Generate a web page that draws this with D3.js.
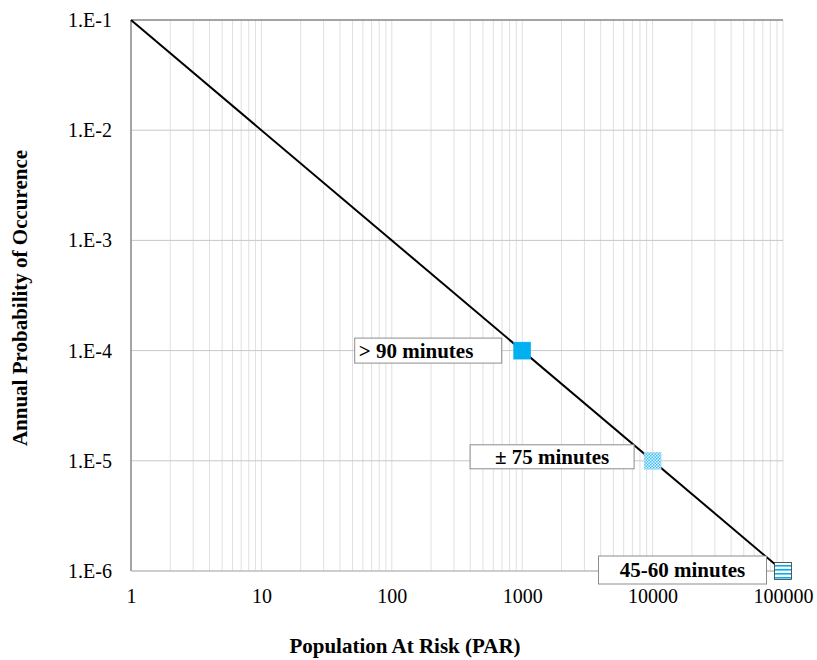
<!DOCTYPE html>
<html>
<head>
<meta charset="utf-8">
<script src="https://cdn.jsdelivr.net/npm/d3@7"></script>
<style>
  body { margin: 0; background: #fff; }
  text { font-family: "Liberation Serif", "Times New Roman", serif; }
</style>
</head>
<body>
<div id="graph"></div>
<script>
// data
const lineX = [1, 100000]
const lineY = [1e-1, 1e-6]
const pointX = [1000, 10000, 100000]
const pointY = [1e-4, 1e-5, 1e-6]
const pointLabels = ["> 90 minutes", "\u00B1 75 minutes", "45-60 minutes"]
const xTicks = [1, 10, 100, 1000, 10000, 100000]
const yTicks = [1e-1, 1e-2, 1e-3, 1e-4, 1e-5, 1e-6]
const yTickLabels = ["1.E-1", "1.E-2", "1.E-3", "1.E-4", "1.E-5", "1.E-6"]

const MARGIN = { LEFT: 131, RIGHT: 34, TOP: 20, BOTTOM: 89 }
const WIDTH = 817 - MARGIN.LEFT - MARGIN.RIGHT
const HEIGHT = 660 - MARGIN.TOP - MARGIN.BOTTOM

const svg = d3.select("#graph").append("svg")
    .attr("width", 817)
    .attr("height", 660)

const defs = svg.append("defs")
// dotted fill
const dots = defs.append("pattern")
    .attr("id", "dots")
    .attr("width", 3).attr("height", 3)
    .attr("patternUnits", "userSpaceOnUse")
dots.append("rect").attr("width", 3).attr("height", 3).attr("fill", "#e3f6fd")
dots.append("rect").attr("width", 1.5).attr("height", 1.5).attr("fill", "#3dbdf0")
dots.append("rect").attr("x", 1.5).attr("y", 1.5).attr("width", 1.5).attr("height", 1.5).attr("fill", "#3dbdf0")
// horizontal lines fill
const hlines = defs.append("pattern")
    .attr("id", "hlines")
    .attr("width", 4).attr("height", 4)
    .attr("patternUnits", "userSpaceOnUse")
hlines.append("rect").attr("width", 4).attr("height", 4).attr("fill", "#fff")
hlines.append("rect").attr("y", 1).attr("width", 4).attr("height", 1.6).attr("fill", "#00b0f0")

const g = svg.append("g")
    .attr("transform", `translate(${MARGIN.LEFT}, ${MARGIN.TOP})`)

const x = d3.scaleLog()
    .range([0, WIDTH])
    .domain([1, 100000])

const y = d3.scaleLog()
    .range([HEIGHT, 0])
    .domain([1e-6, 1e-1])

// grid
const minorX = x.ticks().filter(d => d > 1)
g.append("g").selectAll("line")
    .data(minorX)
    .enter().append("line")
    .attr("x1", d => x(d)).attr("x2", d => x(d))
    .attr("y1", 0).attr("y2", HEIGHT)
    .attr("stroke", "#e0e0e0")
    .attr("stroke-width", 1)

g.append("g").selectAll("line")
    .data(yTicks.slice(1, -1))
    .enter().append("line")
    .attr("x1", 0).attr("x2", WIDTH)
    .attr("y1", d => y(d)).attr("y2", d => y(d))
    .attr("stroke", "#c8c8c8")
    .attr("stroke-width", 1)

// frame
g.append("line").attr("x1", 0).attr("x2", WIDTH).attr("y1", 0).attr("y2", 0)
    .attr("stroke", "#868686").attr("stroke-width", 1.5)
g.append("line").attr("x1", 0).attr("x2", 0).attr("y1", 0).attr("y2", HEIGHT)
    .attr("stroke", "#868686").attr("stroke-width", 1.5)
g.append("line").attr("x1", 0).attr("x2", WIDTH).attr("y1", HEIGHT).attr("y2", HEIGHT)
    .attr("stroke", "#bcbcbc").attr("stroke-width", 1.5)

// axes
const xAxisCall = d3.axisBottom(x).tickValues(xTicks).tickFormat(d3.format("d")).tickSize(0).tickPadding(18)
const xAxis = g.append("g")
    .attr("class", "x axis")
    .attr("transform", `translate(0, ${HEIGHT})`)
    .call(xAxisCall)
xAxis.select(".domain").remove()
xAxis.selectAll("text").attr("font-size", "20px").attr("fill", "#000")
    .style("font-family", "'Liberation Serif', serif")

const yAxisCall = d3.axisLeft(y).tickValues(yTicks).tickFormat((d, i) => yTickLabels[i]).tickSize(0).tickPadding(19)
const yAxis = g.append("g")
    .attr("class", "y axis")
    .call(yAxisCall)
yAxis.select(".domain").remove()
yAxis.selectAll("text").attr("font-size", "20px").attr("fill", "#000")
    .style("font-family", "'Liberation Serif', serif")

// line
const line = d3.line().x(d => x(d[0])).y(d => y(d[1]))
g.append("path")
    .datum(d3.zip(lineX, lineY))
    .attr("d", line)
    .attr("fill", "none")
    .attr("stroke", "#000")
    .attr("stroke-width", 2)

// label boxes (offset left of each marker)
const S = 17
const boxW = [147, 164, 168]
const boxH = [25, 24, 28]
const boxGap = [12, 10, 8]
const boxDy = [0, -4, -1]
const anchors = ["start", "middle", "middle"]
pointX.forEach((px, i) => {
    const right = x(px) - S / 2 - boxGap[i]
    const cy = y(pointY[i]) + boxDy[i]
    g.append("rect")
        .attr("x", right - boxW[i])
        .attr("y", cy - boxH[i] / 2)
        .attr("width", boxW[i]).attr("height", boxH[i])
        .attr("fill", "#fff")
        .attr("stroke", "#8c8c8c")
        .attr("stroke-width", 1)
    g.append("text")
        .attr("x", anchors[i] == "start" ? right - boxW[i] + 4 : right - boxW[i] / 2)
        .attr("y", cy + 7)
        .attr("text-anchor", anchors[i])
        .attr("font-size", "21px")
        .attr("font-weight", "bold")
        .text(pointLabels[i])
})

// markers
const fills = ["#00b0f0", "url(#dots)", "url(#hlines)"]
const strokes = ["#00b0f0", "#9adcf6", "#333"]
g.selectAll(".marker")
    .data(pointX)
    .enter().append("rect")
    .attr("class", "marker")
    .attr("x", d => x(d) - S / 2)
    .attr("y", (d, i) => y(pointY[i]) - S / 2)
    .attr("width", S).attr("height", S)
    .attr("fill", (d, i) => fills[i])
    .attr("stroke", (d, i) => strokes[i])
    .attr("stroke-width", (d, i) => i == 2 ? 0.8 : 0.5)

// Labels
g.append("text")
    .attr("x", 405 - MARGIN.LEFT)
    .attr("y", 653 - MARGIN.TOP)
    .attr("font-size", "21px")
    .attr("font-weight", "bold")
    .attr("text-anchor", "middle")
    .text("Population At Risk (PAR)")
g.append("text")
    .attr("transform", "rotate(-90)")
    .attr("x", -(298 - MARGIN.TOP))
    .attr("y", 27 - MARGIN.LEFT)
    .attr("font-size", "21px")
    .attr("font-weight", "bold")
    .attr("text-anchor", "middle")
    .text("Annual Probability of Occurence")
</script>
</body>
</html>
